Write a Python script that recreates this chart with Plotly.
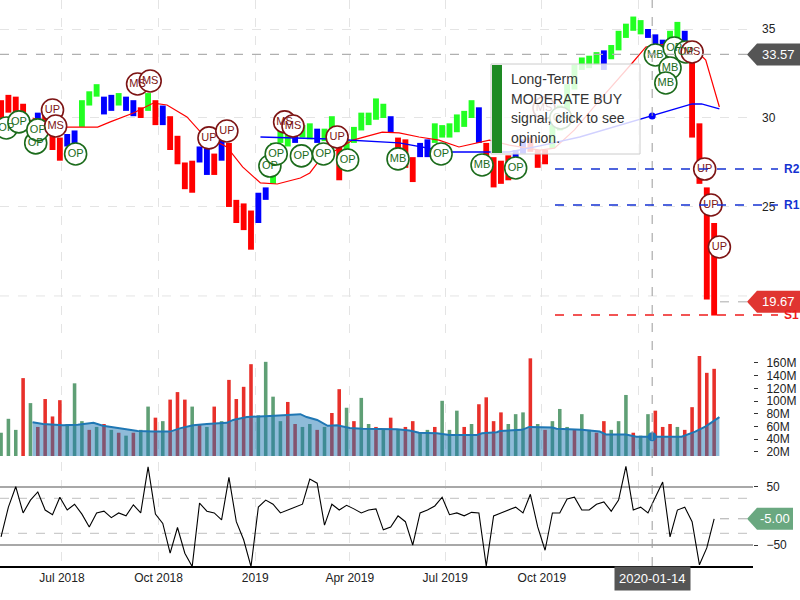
import pandas as pd
import plotly.graph_objects as go
from plotly.subplots import make_subplots

# ---------------- data (weekly) ----------------
first_week = "2018-05-04"
week_dates = pd.date_range(first_week, periods=98, freq="7D")

price_high = [31.0, 31.3, 31.2, 30.8, 29.9, 30.3, 30.2, 29.7, 28.9, 29.1,
              29.3, 31.0, 31.5, 31.9, 31.2, 31.3, 31.4, 31.2, 31.0, 30.6,
              31.4, 31.0, 30.7, 30.1, 29.0, 27.5, 27.6, 28.4, 28.8, 28.0,
              28.8, 28.6, 25.4, 25.2, 24.8, 25.8, 26.1, 28.6, 29.5, 29.3,
              29.4, 29.6, 29.7, 29.4, 29.4, 30.1, 28.4, 28.8, 29.5, 30.3,
              30.3, 31.1, 30.8, 30.1, 28.9, 28.8, 27.8, 28.6, 28.8, 29.7,
              29.6, 29.7, 30.2, 30.4, 31.0, 30.6, 28.6, 27.8, 27.6, 27.9,
              28.2, 28.8, 28.9, 28.2, 28.2, 29.6, 30.7, 31.9, 33.0, 33.4,
              33.5, 33.7, 33.8, 34.1, 34.9, 35.3, 35.7, 35.5, 35.0, 34.7,
              34.4, 34.9, 35.4, 34.9, 33.8, 29.7, 26.1, 24.1]
price_low = [29.7, 30.3, 30.2, 29.5, 28.8, 29.6, 29.0, 28.2, 27.6, 28.4,
             28.5, 29.5, 30.7, 31.2, 30.2, 30.4, 30.7, 30.4, 30.1, 30.0,
             30.4, 29.6, 29.6, 28.2, 27.4, 26.0, 25.8, 27.5, 26.8, 26.8,
             27.6, 25.0, 24.1, 23.7, 22.6, 24.1, 25.4, 26.3, 28.6, 28.4,
             28.6, 28.9, 28.8, 28.6, 28.7, 28.9, 26.5, 27.6, 28.6, 29.3,
             29.6, 29.9, 30.0, 29.2, 27.6, 27.2, 26.4, 27.8, 27.8, 28.6,
             28.9, 28.9, 29.2, 29.5, 30.0, 28.6, 27.8, 26.1, 26.3, 26.5,
             27.4, 28.0, 28.1, 27.2, 27.4, 28.3, 29.3, 30.4, 31.6, 32.7,
             32.8, 33.0, 32.7, 33.3, 33.8, 34.5, 34.9, 34.7, 34.5, 33.9,
             33.7, 34.3, 34.5, 34.3, 28.9, 26.3, 19.8, 18.9]
# g = uptrend (green), b = neutral (blue), r = downtrend (red)
trend_codes = ("rrrrrbrrrb" "bgggbbgbbr" "grbrrrrbbr" "brrrrbbggg" "bggbggrggg"
               "gggbrrrbbg" "gggggbrrrr" "bbrrrggggg" "ggbgggggbb" "bggbrrrr")

volume_m = [50.3, 72.2, 54.8, 136.2, 96.9, 59.4, 103.3, 75.9, 101.5, 64.0,
            128.0, 68.5, 54.8, 59.4, 64.0, 54.8, 50.3, 45.7, 50.3, 54.8,
            91.4, 74.0, 68.5, 102.4, 114.2, 102.4, 91.4, 64.0, 59.4, 91.4,
            68.5, 133.4, 103.3, 122.5, 158.1, 77.7, 161.8, 107.0, 68.5, 98.7,
            64.0, 59.4, 64.0, 54.8, 59.4, 81.3, 118.8, 89.6, 68.5, 105.1,
            64.0, 59.4, 54.8, 74.0, 54.8, 59.4, 68.5, 50.3, 54.8, 59.4,
            100.5, 54.8, 85.0, 59.4, 64.0, 95.1, 106.0, 68.5, 82.3, 64.0,
            79.5, 82.3, 167.3, 64.0, 54.8, 68.5, 87.7, 59.4, 54.8, 79.5,
            54.8, 50.3, 68.5, 54.8, 68.5, 109.7, 50.3, 45.7, 79.5, 85.0,
            59.4, 64.0, 59.4, 54.8, 90.5, 171.0, 144.5, 150.8]
volume_dir = ("gggrgrrrrg" "ggrgrgrgrg" "grgrrrgrgr" "grrrrggggr" "rggrgrrgrg"
              "grgrgrrggr" "gggrgrrrrg" "ggrgrgggrg" "grrgggrggr" "rrgrrrrr")

oscillator = [-36, 15, 50, 5, 27, 41, 10, 2, 32, 10,
              20, 3, -19, 5, 8, -3, 5, 0, 19, 5,
              84, 3, -13, -64, -20, -64, -87, 22, 8, 5,
              -7, 66, -10, -41, -87, 15, 27, 20, 5, 10,
              15, 20, 63, 56, -16, 20, 10, 18, 12, 5,
              10, 12, -24, -19, 0, -10, -50, 5, 10, 17,
              32, 2, 5, 0, 6, 5, -86, 0, 5, 10,
              15, 5, 37, -19, -59, 5, 5, 29, 32, 10,
              10, 20, 24, 8, 27, 85, 10, 15, 5, 32,
              58, -36, 10, 15, -10, -84, -55, -5]

ma_red_dates = ["2018-06-03", "2018-06-20", "2018-07-06", "2018-08-04", "2018-08-16",
                "2018-09-07", "2018-09-26", "2018-10-09", "2018-10-28", "2018-11-10",
                "2018-11-22", "2018-12-05", "2018-12-20", "2019-01-06", "2019-01-22",
                "2019-02-13", "2019-02-22", "2019-03-02", "2019-03-16", "2019-04-04",
                "2019-05-02", "2019-05-18", "2019-06-06", "2019-06-25", "2019-07-14",
                "2019-08-02", "2019-08-12", "2019-08-31", "2019-09-29", "2019-10-13",
                "2019-11-01", "2019-11-25", "2019-12-14", "2019-12-26", "2020-01-08",
                "2020-01-18", "2020-02-18", "2020-03-05", "2020-03-18"]
ma_red_values = [30.0, 29.66, 29.49, 29.49, 29.78, 30.28, 30.84, 30.73, 30.06, 29.21,
                 28.76, 28.37, 27.25, 26.35, 26.29, 26.63, 26.91, 27.53, 28.09, 28.76,
                 29.21, 29.16, 28.93, 28.76, 28.37, 28.6, 28.76, 28.48, 28.2, 28.31,
                 29.33, 31.01, 32.25, 33.09, 33.99, 34.1, 34.21, 33.26, 30.62]

ma_blue_dates = ["2019-01-06", "2019-03-13", "2019-05-18", "2019-07-05", "2019-08-31",
                 "2019-09-29", "2019-11-06", "2020-01-14", "2020-02-21", "2020-03-01",
                 "2020-03-18"]
ma_blue_values = [28.93, 28.82, 28.6, 28.09, 28.09, 28.43, 28.93, 30.11, 30.79, 30.79, 30.51]

vol_ma_dates = ["2018-06-03", "2018-06-13", "2018-07-02", "2018-07-16", "2018-07-31",
                "2018-08-09", "2018-08-28", "2018-09-11", "2018-09-26", "2018-10-12",
                "2018-10-22", "2018-11-03", "2018-11-16", "2018-12-05", "2018-12-11",
                "2018-12-24", "2019-01-15", "2019-02-13", "2019-02-19", "2019-03-01",
                "2019-03-11", "2019-03-20", "2019-04-01", "2019-04-13", "2019-05-16",
                "2019-05-28", "2019-06-06", "2019-06-23", "2019-07-05", "2019-07-31",
                "2019-08-05", "2019-08-19", "2019-08-22", "2019-09-12", "2019-09-19",
                "2019-10-11", "2019-10-15", "2019-11-08", "2019-11-25", "2019-12-01",
                "2019-12-20", "2019-12-30", "2020-01-14", "2020-02-11", "2020-02-24",
                "2020-03-05", "2020-03-18"]
vol_ma_values_m = [66.7, 64.0, 62.1, 63.0, 65.8, 61.2, 56.7, 53.0, 52.1, 52.1,
                   57.6, 62.1, 64.0, 65.8, 70.4, 74.9, 76.8, 79.5, 74.9, 70.4,
                   61.2, 62.1, 57.6, 56.7, 55.7, 53.9, 50.3, 49.3, 46.6, 46.6,
                   49.3, 51.2, 53.0, 54.8, 59.4, 58.5, 56.7, 54.8, 52.1, 47.5,
                   47.5, 43.9, 43.9, 43.9, 52.1, 60.3, 74.9]

signal_dates = ["2018-05-09", "2018-05-21", "2018-06-06", "2018-06-08", "2018-06-22",
                "2018-06-25", "2018-07-14", "2018-09-11", "2018-09-23", "2018-11-18",
                "2018-12-05", "2019-01-15", "2019-01-21", "2019-01-29", "2019-02-06",
                "2019-02-14", "2019-03-07", "2019-03-20", "2019-03-30", "2019-05-17",
                "2019-06-27", "2019-08-05", "2019-09-06", "2019-10-03", "2019-10-19",
                "2020-01-17", "2020-02-04", "2020-01-31", "2020-01-27", "2020-02-15",
                "2020-02-21", "2020-03-04", "2020-03-10", "2020-03-18"]
signal_prices = [29.44, 29.78, 28.6, 29.33, 30.45, 29.55, 27.98, 31.91, 32.08, 28.88,
                 29.27, 27.3, 27.98, 29.78, 29.55, 27.87, 27.98, 28.93, 27.64, 27.70,
                 27.98, 27.36, 27.19, 30.56, 30.0, 33.54, 33.93, 32.81, 31.97, 33.71,
                 33.71, 27.13, 25.11, 22.75]
signal_labels = ["OP", "OP", "OP", "OP", "UP", "MS", "OP", "MS", "MS", "UP",
                 "UP", "OP", "OP", "MS", "MS", "OP", "OP", "UP", "OP", "MB",
                 "OP", "MB", "OP", "MS", "OP", "MB", "OP", "MB", "MB", "OP",
                 "MS", "UP", "UP", "UP"]

crosshair_date = "2020-01-14"
crosshair_price = 33.57
crosshair_blue_ma = 30.11
crosshair_vol_ma_m = 43.9
last_close = 19.67
last_osc = -5.00
level_r2, level_r1, level_s1 = 27.13, 25.11, 18.93

x_tick_dates = ["2018-07-01", "2018-10-01", "2019-01-01", "2019-04-01",
                "2019-07-01", "2019-10-01", "2020-01-01"]
x_tick_text = ["Jul 2018", "Oct 2018", "2019", "Apr 2019", "Jul 2019", "Oct 2019", ""]
price_ticks = [25, 30, 35]
price_grid = [20, 25, 30, 35]
vol_ticks_m = [20, 40, 60, 80, 100, 120, 140, 160]
osc_ticks = [-50, 50]
osc_guides = [-30, 30]
opinion_lines = ["Long-Term", "MODERATE BUY", "signal, click to see", "opinion."]

# ---------------- styling / layout helpers ----------------
FONT = "Arial, Liberation Sans, sans-serif"
PW, PH = 753.0, 566.0          # plotting area in pixels
def px(x):                      # pixel -> paper x
    return x / PW
def py(y):                      # pixel -> paper y
    return (PH - y) / PH

x_start, x_end = "2018-05-03", "2020-04-19"
DAY_MS = 86400000

trend_color = {"g": "#22ff22", "b": "#0000ff", "r": "#ff0000"}
vol_color = {"g": "#5f9f75", "r": "#e8302a"}

fig = make_subplots(rows=3, cols=1, shared_xaxes=True, vertical_spacing=0.0)

# price bars (high-low)
fig.add_trace(go.Bar(
    x=week_dates, y=[h - l for h, l in zip(price_high, price_low)], base=price_low,
    marker=dict(color=[trend_color[c] for c in trend_codes], line=dict(width=0)),
    width=5.6 * DAY_MS, hoverinfo="skip"), row=1, col=1)
fig.add_trace(go.Scatter(x=pd.to_datetime(ma_red_dates), y=ma_red_values, mode="lines",
                         line=dict(color="#ff0000", width=1.2), hoverinfo="skip"), row=1, col=1)
fig.add_trace(go.Scatter(x=pd.to_datetime(ma_blue_dates), y=ma_blue_values, mode="lines",
                         line=dict(color="#0000ff", width=1.4), hoverinfo="skip"), row=1, col=1)
fig.add_trace(go.Scatter(x=[crosshair_date], y=[crosshair_blue_ma], mode="markers",
                         marker=dict(color="#0000ff", size=7), hoverinfo="skip"), row=1, col=1)

sig_col = ["#1b6b1b" if s in ("OP", "MB") else "#7d1414" for s in signal_labels]
fig.add_trace(go.Scatter(
    x=pd.to_datetime(signal_dates), y=signal_prices, mode="markers+text",
    text=signal_labels, textposition="middle center",
    textfont=dict(family=FONT, size=11, color=sig_col),
    marker=dict(symbol="circle", size=22, color="white", line=dict(color=sig_col, width=1.6)),
    hoverinfo="skip", cliponaxis=False), row=1, col=1)

# volume
fig.add_trace(go.Bar(x=week_dates, y=[v * 1e6 for v in volume_m],
                     marker=dict(color=[vol_color[c] for c in volume_dir], line=dict(width=0)),
                     width=3.4 * DAY_MS, hoverinfo="skip"), row=2, col=1)
fig.add_trace(go.Scatter(x=pd.to_datetime(vol_ma_dates), y=[v * 1e6 for v in vol_ma_values_m],
                         mode="lines", fill="tozeroy", fillcolor="rgba(31,119,180,0.5)",
                         line=dict(color="#1f77b4", width=2), hoverinfo="skip"), row=2, col=1)
fig.add_trace(go.Scatter(x=[crosshair_date], y=[crosshair_vol_ma_m * 1e6], mode="markers",
                         marker=dict(color="#1f77b4", size=9), hoverinfo="skip"), row=2, col=1)

# oscillator
fig.add_trace(go.Scatter(x=week_dates, y=oscillator, mode="lines",
                         line=dict(color="black", width=1.1), hoverinfo="skip"), row=3, col=1)

# axes
for r in (1, 2, 3):
    fig.update_xaxes(row=r, col=1, domain=[0, 1.0], range=[x_start, x_end],
                     tickvals=x_tick_dates, ticktext=x_tick_text,
                     showgrid=True, gridcolor="#e4e4e4", griddash="dash", gridwidth=1,
                     zeroline=False, showline=False, ticks="")
fig.update_xaxes(row=3, col=1, showticklabels=True, showline=True, linecolor="black",
                 linewidth=1.5, tickfont=dict(family=FONT, size=12, color="#222"))
fig.update_yaxes(row=1, col=1, domain=[py(336), 1.0], range=[17.75, 36.63], side="right",
                 tickvals=price_ticks, showgrid=True, gridcolor="#e4e4e4", griddash="dash",
                 zeroline=False, ticks="", ticklabelstandoff=8,
                 tickfont=dict(family=FONT, size=12, color="#222"))
fig.update_yaxes(row=2, col=1, domain=[py(456), py(350)], range=[13.7e6, 180.4e6], side="right",
                 tickvals=[v * 1e6 for v in vol_ticks_m], ticktext=[f"{v}M" for v in vol_ticks_m],
                 showgrid=False, zeroline=False, ticks="outside", ticklen=4, tickcolor="#333",
                 ticklabelstandoff=6, tickfont=dict(family=FONT, size=12, color="#222"))
fig.update_yaxes(row=3, col=1, domain=[0.0, py(462)], range=[-86, 92.4], side="right",
                 tickvals=osc_ticks, showgrid=True, gridcolor="#a8a8a8", gridwidth=2,
                 zeroline=False, ticks="outside", ticklen=4, tickcolor="#333",
                 ticklabelstandoff=6, tickfont=dict(family=FONT, size=12, color="#222"))

shapes = []
# extra price gridline (its tick label is hidden under the last-close tag)
shapes.append(dict(type="line", xref="x domain", yref="y", x0=0, x1=1,
                   y0=price_grid[0], y1=price_grid[0],
                   line=dict(color="#e4e4e4", width=1, dash="dash"), layer="below"))
# oscillator dashed guides
for g in osc_guides:
    shapes.append(dict(type="line", xref="x3 domain", yref="y3", x0=0, x1=1, y0=g, y1=g,
                       line=dict(color="#cccccc", width=1.2, dash="dash"), layer="below"))
# crosshair
shapes.append(dict(type="line", xref="x", yref="paper", x0=crosshair_date, x1=crosshair_date,
                   y0=0, y1=1, line=dict(color="#9a9a9a", width=1, dash="dash")))
shapes.append(dict(type="line", xref="paper", yref="y", x0=0, x1=px(747),
                   y0=crosshair_price, y1=crosshair_price,
                   line=dict(color="#b0b0b0", width=1.2, dash="dash")))
# support / resistance
for lv, col in ((level_r2, "#1432d2"), (level_r1, "#1432d2"), (level_s1, "#ee1c1c")):
    shapes.append(dict(type="line", xref="paper", yref="y", x0=px(555), x1=px(778),
                       y0=lv, y1=lv, line=dict(color=col, width=1.6, dash="dash")))
# last value leaders
shapes.append(dict(type="line", xref="paper", yref="y", x0=px(720), x1=px(747),
                   y0=last_close, y1=last_close, line=dict(color="#aaaaaa", width=1, dash="dash")))
shapes.append(dict(type="line", xref="paper", yref="y3", x0=px(720), x1=px(747),
                   y0=last_osc, y1=last_osc, line=dict(color="#aaaaaa", width=1, dash="dash")))

def tag(yref, val, half, color, right):
    x_tip, x_body, x_r = px(747), px(757), px(right)
    path = (f"M {x_tip},{val} L {x_body},{val + half} L {x_r},{val + half} "
            f"L {x_r},{val - half} L {x_body},{val - half} Z")
    return dict(type="path", xref="paper", yref=yref, path=path,
                fillcolor=color, line=dict(width=0))

shapes.append(tag("y", crosshair_price, 11 / 17.8, "#555555", 800))
shapes.append(tag("y", last_close, 11 / 17.8, "#e03531", 800))
shapes.append(tag("y3", last_osc, 11 / 0.583, "#6aa880", 793))

# opinion box
shapes.append(dict(type="rect", xref="paper", yref="paper", x0=px(491), x1=px(640),
                   y0=py(154), y1=py(64), fillcolor="rgba(255,255,255,0.82)",
                   line=dict(color="#cccccc", width=1), layer="above"))
shapes.append(dict(type="rect", xref="paper", yref="paper", x0=px(492), x1=px(502),
                   y0=py(153), y1=py(65), fillcolor="#1e8a24", line=dict(width=0), layer="above"))

annotations = []
for i, t in enumerate(opinion_lines):
    annotations.append(dict(text=t, xref="paper", yref="paper", x=px(509), y=py(79 + 19.7 * i),
                            xanchor="left", yanchor="middle", showarrow=False,
                            font=dict(family=FONT, size=14, color="#333333")))
annotations.append(dict(text=f"{crosshair_price:.2f}", xref="paper", yref="y", x=px(778.5),
                        y=crosshair_price, xanchor="center", yanchor="middle", showarrow=False,
                        font=dict(family=FONT, size=13, color="white")))
annotations.append(dict(text=f"{last_close:.2f}", xref="paper", yref="y", x=px(778.5),
                        y=last_close, xanchor="center", yanchor="middle", showarrow=False,
                        font=dict(family=FONT, size=13, color="white")))
annotations.append(dict(text=f"{last_osc:.2f}", xref="paper", yref="y3", x=px(775),
                        y=last_osc, xanchor="center", yanchor="middle", showarrow=False,
                        font=dict(family=FONT, size=13, color="white")))
for lab, lv, col in (("R2", level_r2, "#1432d2"), ("R1", level_r1, "#1432d2"),
                     ("S1", level_s1, "#ee1c1c")):
    annotations.append(dict(text=f"<b>{lab}</b>", xref="paper", yref="y", x=px(782), y=lv,
                            xanchor="left", yanchor="middle", showarrow=False,
                            font=dict(family=FONT, size=12, color=col)))
annotations.append(dict(text=crosshair_date, xref="x3", yref="paper", x=crosshair_date, y=0,
                        xanchor="center", yanchor="top", showarrow=False, bgcolor="#555555",
                        borderpad=4, font=dict(family=FONT, size=13, color="white")))

fig.update_layout(
    width=800, height=600, autosize=False,
    margin=dict(l=0, r=47, t=0, b=34),
    paper_bgcolor="white", plot_bgcolor="white",
    showlegend=False, hovermode=False, barmode="overlay",
    shapes=shapes, annotations=annotations,
    font=dict(family=FONT, size=12, color="#222"),
)

fig.write_html("out.html", config={"displayModeBar": False},
               post_script="document.body.style.margin='0px';document.body.style.overflow='hidden';")
